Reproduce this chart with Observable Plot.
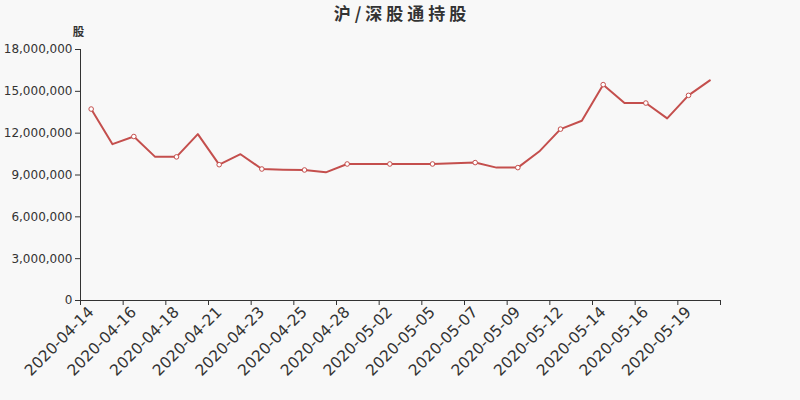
<!DOCTYPE html>
<html><head><meta charset="utf-8">
<script src="https://cdn.jsdelivr.net/npm/d3@7"></script>
<script src="https://cdn.jsdelivr.net/npm/@observablehq/plot@0.6"></script>
<style>
html,body{margin:0;padding:0;background:#f8f8f8;width:800px;height:400px;overflow:hidden}
#title{height:22px;line-height:22px;padding-top:2px;text-align:center;font-weight:bold;font-size:17px;font-family:"Noto Sans CJK SC",sans-serif;color:#333;letter-spacing:4px;padding-left:4px}
#chart svg{display:block}
</style></head><body>
<div id="title">沪/深股通持股</div>
<div id="chart"></div>
<script>
const dates = ["2020-04-14","2020-04-15","2020-04-16","2020-04-17","2020-04-18","2020-04-20",
  "2020-04-21","2020-04-22","2020-04-23","2020-04-24","2020-04-25","2020-04-27",
  "2020-04-28","2020-04-29","2020-05-02","2020-05-03","2020-05-05","2020-05-06",
  "2020-05-07","2020-05-08","2020-05-09","2020-05-11","2020-05-12","2020-05-13",
  "2020-05-14","2020-05-15","2020-05-16","2020-05-18","2020-05-19","2020-05-20"];
const holdings = [13730000,11210000,11760000,10300000,10300000,11930000,
  9740000,10490000,9430000,9380000,9360000,9190000,
  9790000,9790000,9790000,9790000,9790000,9840000,
  9890000,9530000,9530000,10680000,12290000,12890000,
  15480000,14160000,14160000,13060000,14710000,15790000];
const yTicks = [0,3000000,6000000,9000000,12000000,15000000,18000000];
const yUnit = "股";

const data = dates.map((d,i)=>({i, date:d, value:holdings[i]}));
const labelIdx = d3.range(0, dates.length, 2);
const boundaryTicks = d3.range(-0.5, dates.length + 0.5, 2);
const color = "#c44f4d";

const chart = Plot.plot({
  width: 800, height: 376,
  marginLeft: 80, marginRight: 80, marginTop: 25, marginBottom: 100,
  style: {background: "#f8f8f8", fontFamily: "'DejaVu Sans', sans-serif", color: "#333"},
  x: {type: "linear", domain: [-0.5, dates.length - 0.5], axis: null},
  y: {domain: [0, 18000000], axis: null},
  marks: [
    Plot.axisY({ticks: yTicks, tickFormat: d3.format(","), tickSize: 5, tickPadding: 3, fontSize: 12, label: null, stroke: "#333", color: "#333"}),
    Plot.axisX({ticks: boundaryTicks, tickFormat: () => "", tickSize: 5, label: null, stroke: "#333"}),
    Plot.axisX({ticks: labelIdx, tickFormat: i => dates[i], tickSize: 0, tickPadding: 9, tickRotate: -45, fontSize: 15.5, label: null, color: "#333"}),
    Plot.ruleX([-0.5], {stroke: "#333"}),
    Plot.ruleY([0], {stroke: "#333"}),
    Plot.line(data, {x: "i", y: "value", stroke: color, strokeWidth: 2}),
    Plot.dot(data.filter(d => d.i % 2 === 0), {x: "i", y: "value", r: 2.3, fill: "#fff", stroke: color, strokeWidth: 1}),
    Plot.text([yUnit], {frameAnchor: "top-left", dx: -2, dy: -22, text: d => d, textAnchor: "middle", fontSize: 11.5, fontWeight: "bold", fontFamily: "'Noto Sans CJK SC', sans-serif", fill: "#333"})
  ]
});
document.getElementById("chart").appendChild(chart);
</script>
</body></html>
